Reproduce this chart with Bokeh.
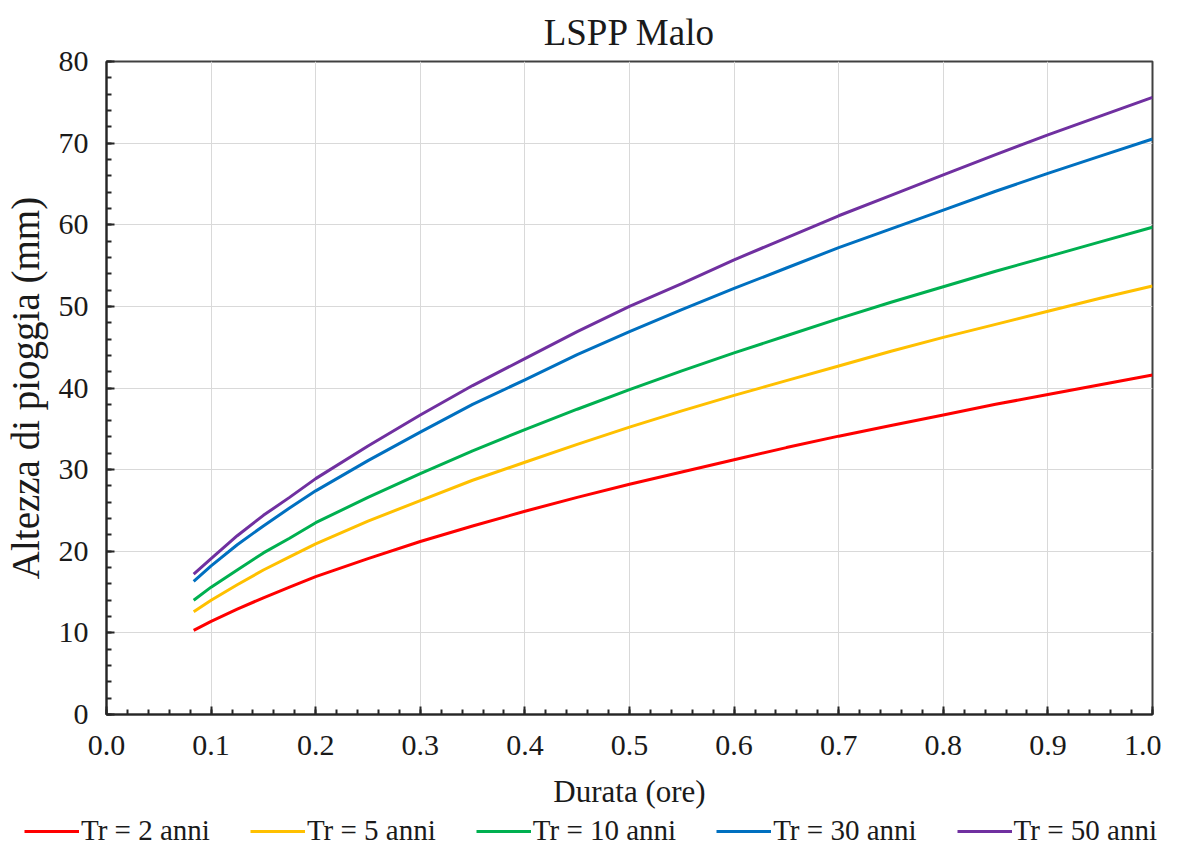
from bokeh.plotting import figure
from bokeh.models import Legend, LegendItem, Range1d, FixedTicker
from bokeh.layouts import column, row
from bokeh.embed import file_html
from bokeh.resources import INLINE

# Duration (hours)
durata = [5/60, 0.10, 0.125, 0.15, 0.175, 0.20, 0.25, 0.30, 0.35, 0.40, 0.45,
          0.50, 0.55, 0.60, 0.65, 0.70, 0.75, 0.80, 0.85, 0.90, 0.95, 1.00]

# Rainfall depth (mm) per return period
tr2 = [10.3, 11.4, 12.9, 14.3, 15.6, 16.9, 19.1, 21.2, 23.1, 24.9, 26.6,
       28.2, 29.7, 31.2, 32.7, 34.1, 35.4, 36.7, 38.0, 39.2, 40.4, 41.6]
tr5 = [12.6, 14.0, 15.9, 17.7, 19.3, 20.9, 23.7, 26.2, 28.7, 30.9, 33.1,
       35.2, 37.2, 39.1, 40.9, 42.7, 44.5, 46.2, 47.8, 49.4, 51.0, 52.5]
tr10 = [14.0, 15.6, 17.7, 19.8, 21.6, 23.5, 26.6, 29.5, 32.3, 34.9, 37.4,
        39.8, 42.1, 44.3, 46.4, 48.5, 50.5, 52.4, 54.3, 56.1, 57.9, 59.7]
tr30 = [16.3, 18.2, 20.8, 23.1, 25.3, 27.4, 31.1, 34.6, 38.0, 41.0, 44.1,
        46.9, 49.6, 52.2, 54.7, 57.2, 59.5, 61.8, 64.1, 66.3, 68.4, 70.5]
tr50 = [17.2, 19.1, 21.9, 24.4, 26.6, 28.9, 32.9, 36.7, 40.3, 43.6, 46.9,
        50.0, 52.8, 55.7, 58.4, 61.1, 63.6, 66.1, 68.6, 71.0, 73.3, 75.6]

labels = ["Tr = 2 anni", "Tr = 5 anni", "Tr = 10 anni", "Tr = 30 anni", "Tr = 50 anni"]
colors = ["#ff0000", "#ffc000", "#00b050", "#0070c0", "#7030a0"]
series = [tr2, tr5, tr10, tr30, tr50]

x_ticks = [0.0, 0.1, 0.2, 0.3, 0.4, 0.5, 0.6, 0.7, 0.8, 0.9, 1.0]
y_ticks = [0, 10, 20, 30, 40, 50, 60, 70, 80]

FONT = "Liberation Serif"
TXT = "#1a1a1a"

W = 1161
H_MAIN = 815
H_LEG = 32

p = figure(width=W, height=H_MAIN, output_backend="svg", toolbar_location=None,
           x_range=Range1d(0, 1.0), y_range=Range1d(0, 80),
           min_border_left=106, min_border_right=9, min_border_top=61,
           min_border_bottom=H_MAIN - 714)

p.title.text = "LSPP Malo"
p.title.align = "center"
p.title.text_font = FONT
p.title.text_font_size = "37px"
p.title.text_font_style = "normal"
p.title.text_color = TXT
p.title.standoff = 18

for ys, c in zip(series, colors):
    p.line(durata, ys, line_color=c, line_width=3)

for ax in (p.xaxis[0], p.yaxis[0]):
    ax.axis_line_color = "#262626"
    ax.axis_line_width = 2
    ax.major_tick_in = 8
    ax.major_tick_out = 0
    ax.minor_tick_in = 5
    ax.minor_tick_out = 0
    ax.major_tick_line_color = "#262626"
    ax.minor_tick_line_color = "#262626"
    ax.major_tick_line_width = 2
    ax.minor_tick_line_width = 2
    ax.major_label_text_font = FONT
    ax.major_label_text_font_size = "30px"
    ax.major_label_text_color = TXT
    ax.axis_label_text_font = FONT
    ax.axis_label_text_font_style = "normal"
    ax.axis_label_text_color = TXT

p.xaxis.ticker = FixedTicker(ticks=x_ticks, minor_ticks=[i * 0.02 for i in range(51)])
p.yaxis.ticker = FixedTicker(ticks=y_ticks, minor_ticks=[i * 2 for i in range(41)])
p.xaxis.major_label_overrides = {t: f"{t:.1f}" for t in x_ticks}
p.xaxis.axis_label = "Durata (ore)"
p.yaxis.axis_label = "Altezza di pioggia (mm)"
p.xaxis.axis_label_text_font_size = "31px"
p.yaxis.axis_label_text_font_size = "39px"
p.xaxis.major_label_standoff = 21
p.xaxis.axis_label_standoff = 16
p.yaxis.major_label_standoff = 18
p.yaxis.axis_label_standoff = 9

p.xgrid.ticker = FixedTicker(ticks=x_ticks)
p.ygrid.ticker = FixedTicker(ticks=y_ticks)
p.xgrid.grid_line_color = "#d9d9d9"
p.ygrid.grid_line_color = "#d9d9d9"

p.outline_line_color = "#404040"
p.outline_line_width = 2
p.background_fill_color = "white"
p.border_fill_color = "white"

# Legend strip below the chart (its lines lie outside its visible range)
lg = figure(width=W, height=H_LEG, output_backend="svg", toolbar_location=None,
            x_range=Range1d(0, 1), y_range=Range1d(1000, 1001),
            x_axis_location=None, y_axis_location=None,
            min_border_left=0, min_border_right=0, min_border_top=0, min_border_bottom=0)
lg.xgrid.visible = False
lg.ygrid.visible = False
lg.outline_line_color = None
lg.background_fill_color = "white"
lg.border_fill_color = "white"

items = []
for ys, c, lab in zip(series, colors, labels):
    r = lg.line(durata, ys, line_color=c, line_width=3)
    items.append(LegendItem(label=lab, renderers=[r]))

legend = Legend(items=items, orientation="horizontal", location=(24, 0),
                glyph_width=55, glyph_height=20, label_standoff=2, spacing=40,
                label_text_font=FONT, label_text_font_size="29px", label_text_color=TXT,
                border_line_color=None, background_fill_alpha=0, padding=0, margin=0)
lg.add_layout(legend)

layout = column(p, row(lg), spacing=0)
open("out.html", "w").write(file_html(layout, INLINE))
